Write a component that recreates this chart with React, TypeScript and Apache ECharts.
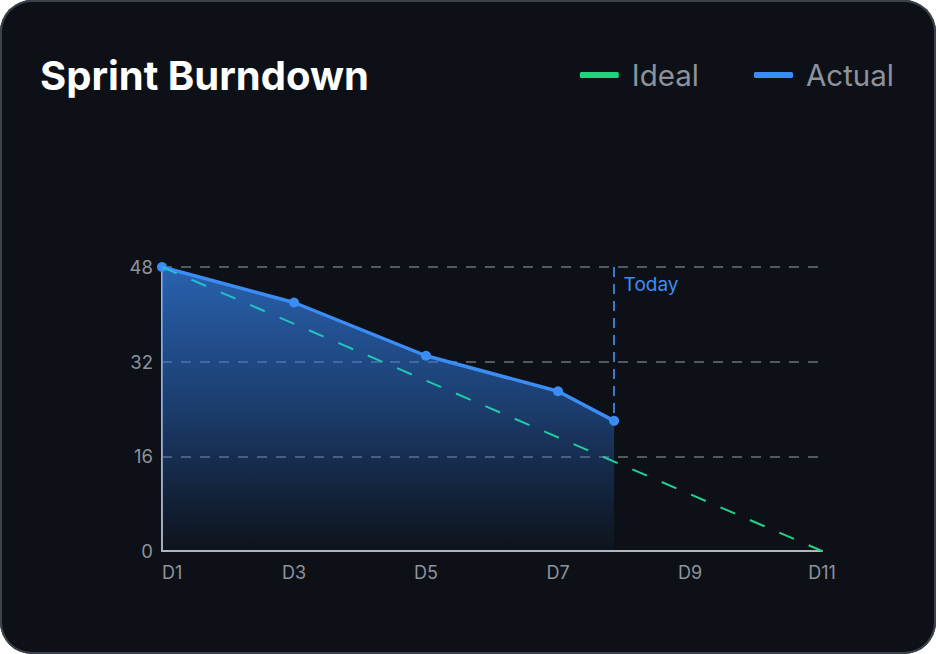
import React, { useEffect, useRef } from "react";
import * as echarts from "echarts";

// ---- data ----
const tickLabels = ["D1", "D3", "D5", "D7", "D9", "D11"];
const yTicks = [0, 16, 32, 48];
const actualDays = [1, 3, 5, 7, 7.85];
const actualRemaining = [48, 42, 33, 27, 22];
const idealDays = [1, 11];
const idealRemaining = [48, 0];
const todayLabel = "Today";

const FONT = "Inter, 'Noto Sans', sans-serif";
const BLUE = "#3b8df5";
const GREEN = "#22d27f";
const GRAY_TEXT = "#8d939c";

export default function App() {
  const ref = useRef<HTMLDivElement>(null);

  useEffect(() => {
    document.body.style.margin = "0";
    if (!ref.current) return;
    const chart = echarts.init(ref.current, null, { renderer: "svg" });

    const toIdx = (d: number) => d - 1;
    const actualData = actualDays.map((d, i) => [toIdx(d), actualRemaining[i]]);
    const idealData = idealDays.map((d, i) => [toIdx(d), idealRemaining[i]]);
    const todayX = toIdx(actualDays[actualDays.length - 1]);
    const todayY = actualRemaining[actualRemaining.length - 1];
    const yMax = yTicks[yTicks.length - 1];

    chart.setOption({
      animation: false,
      backgroundColor: "transparent",
      title: {
        text: "Sprint Burndown",
        left: 35,
        top: 46,
        textStyle: {
          color: "#ffffff",
          fontFamily: FONT,
          fontWeight: 700,
          fontSize: 40,
          lineHeight: 48,
        },
      },
      legend: {
        right: 37,
        top: 52,
        itemWidth: 39,
        itemHeight: 6,
        itemGap: 55,
        icon: "roundRect",
        data: [
          { name: "Ideal", itemStyle: { color: GREEN } },
          { name: "Actual", itemStyle: { color: BLUE } },
        ],
        textStyle: {
          color: GRAY_TEXT,
          fontFamily: FONT,
          fontSize: 29.5,
          lineHeight: 36,
          padding: [0, 0, 0, 8],
        },
      },
      grid: { left: 162, right: 114, top: 267, bottom: 103 },
      xAxis: {
        type: "value",
        min: 0,
        max: 10,
        interval: 2,
        axisLine: { show: true, lineStyle: { color: "#b2b7bf", width: 2 } },
        axisTick: { show: false },
        splitLine: { show: false },
        axisLabel: {
          color: GRAY_TEXT,
          fontFamily: FONT,
          fontSize: 18,
          margin: 12,
          alignMinLabel: "left",
          formatter: (v: number) => tickLabels[Math.round(v / 2)] ?? "",
        },
      },
      yAxis: {
        type: "value",
        min: 0,
        max: yMax,
        interval: 16,
        axisLine: { show: true, lineStyle: { color: "#a9aeb6", width: 2 } },
        axisTick: { show: false },
        splitLine: {
          show: true,
          lineStyle: { color: "#6b727c", width: 1.5, type: [10, 9] },
        },
        axisLabel: {
          color: GRAY_TEXT,
          fontFamily: FONT,
          fontSize: 18.5,
          margin: 9,
        },
      },
      series: [
        {
          name: "Ideal",
          type: "line",
          data: idealData,
          showSymbol: false,
          symbol: "none",
          itemStyle: { color: GREEN },
          lineStyle: {
            width: 2,
            type: [16, 16],
            color: new echarts.graphic.LinearGradient(0, 0, 1, 0, [
              { offset: 0, color: "#1fbfd2" },
              { offset: 1, color: "#22d47f" },
            ]),
          },
          z: 3,
        },
        {
          name: "Actual",
          type: "line",
          data: actualData,
          symbol: "circle",
          symbolSize: 10,
          showSymbol: true,
          itemStyle: { color: BLUE },
          lineStyle: { width: 3.5, color: BLUE },
          areaStyle: {
            origin: "start",
            opacity: 1,
            color: new echarts.graphic.LinearGradient(0, 0, 0, 1, [
              { offset: 0, color: "rgba(52,130,235,0.72)" },
              { offset: 0.5, color: "rgba(45,115,215,0.45)" },
              { offset: 1, color: "rgba(40,100,200,0.03)" },
            ]),
          },
          z: 2,
          markLine: {
            silent: true,
            symbol: ["none", "none"],
            label: { show: false },
            lineStyle: { color: "#3a7cc9", width: 2, type: [10, 7] },
            data: [[{ coord: [todayX, yMax] }, { coord: [todayX, todayY] }]],
          },
          markPoint: {
            silent: true,
            symbol: "circle",
            symbolSize: 1,
            itemStyle: { color: "transparent" },
            label: {
              show: true,
              position: "right",
              distance: 9,
              offset: [0, 17],
              formatter: todayLabel,
              color: "#3d8ef2",
              fontFamily: FONT,
              fontSize: 19,
            },
            data: [{ coord: [todayX, yMax] }],
          },
        },
      ],
    });

    return () => chart.dispose();
  }, []);

  return (
    <div
      style={{
        width: 936,
        height: 654,
        borderRadius: 32,
        background: "#0d1117",
        boxShadow: "inset 0 0 0 2px #3c424b",
        overflow: "hidden",
        position: "relative",
      }}
    >
      <div ref={ref} style={{ width: 936, height: 654 }} />
    </div>
  );
}
